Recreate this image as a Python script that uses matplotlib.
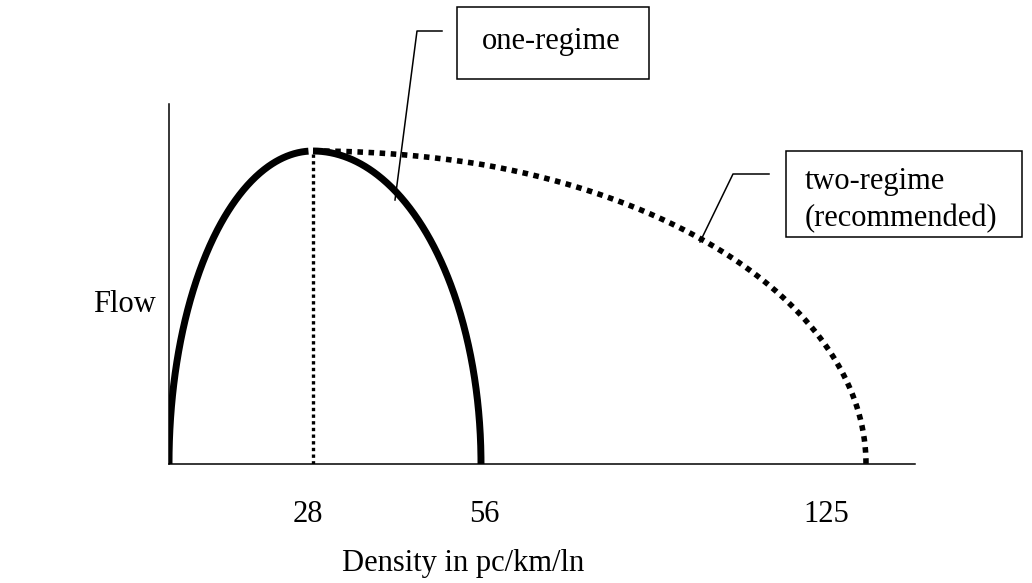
import numpy as np
import matplotlib
matplotlib.use("Agg")
import matplotlib.pyplot as plt
from matplotlib.patches import Rectangle
from matplotlib.transforms import ScaledTranslation

# ---------------- data ----------------
density_ticks = [28, 56, 125]
tick_labels = ["28", "56", "125"]
k_critical = 28        # density at capacity (pc/km/ln)
k_jam_one = 56         # jam density, one-regime model
k_jam_two = 125        # jam density, two-regime model
capacity = 1.0         # relative flow at capacity (schematic)
series_names = ["one-regime", ["two-regime", "(recommended)"]]
x_label = "Density in pc/km/ln"
y_label = "Flow"

# ---------------- layout ----------------
W, H = 1032, 583
plt.rcParams['font.family'] = ['Liberation Serif', 'DejaVu Serif']
FS = 22
fig = plt.figure(figsize=(W / 100, H / 100), dpi=100)

ax_left, ax_right, ax_top, ax_bottom = 169, 915, 104, 464
ax = fig.add_axes([ax_left / W, (H - ax_bottom) / H,
                   (ax_right - ax_left) / W, (ax_bottom - ax_top) / H])

# schematic (not-to-scale) density axis: piecewise-linear mapping
knots_d = [0, 28, 56, 125, 140]
knots_p = [0, 144, 312, 697, 746]
fwd = lambda x: np.interp(x, knots_d, knots_p)
inv = lambda p: np.interp(p, knots_p, knots_d)
ax.set_xscale('function', functions=(fwd, inv))
ax.set_xlim(0, 140)
ax.set_ylim(0, capacity * 360 / 313)

t = np.linspace(0, np.pi / 2, 300)
# one-regime: two quarter ellipses joined at capacity
k_left = k_critical - k_critical * np.cos(t)
q_left = capacity * np.sin(t)
k_right = k_critical + (k_jam_one - k_critical) * np.sin(t)
q_right = capacity * np.cos(t)
ax.plot(k_left[:-6], q_left[:-6], color='black', lw=5.0, solid_capstyle='butt', zorder=3)
ax.plot(k_right, q_right, color='black', lw=5.0, solid_capstyle='butt', zorder=3)
# two-regime congested branch
k_two = k_critical + (k_jam_two - k_critical) * np.sin(t)
q_two = capacity * np.cos(t)
ax.plot(k_two, q_two, color='black', lw=4.0, linestyle=(0, (1, 1)),
        dash_capstyle='butt', zorder=2)
# vertical dotted line at critical density
ax.plot([k_critical, k_critical], [0, capacity], color='black', lw=2.4,
        linestyle=(0, (1, 1)), dash_capstyle='butt', zorder=2)

for s in ['top', 'right']:
    ax.spines[s].set_visible(False)
for s in ['left', 'bottom']:
    ax.spines[s].set_linewidth(1.1)
ax.set_yticks([])
ax.set_xticks(density_ticks)
ax.set_xticklabels(tick_labels, fontsize=FS)
ax.tick_params(axis='x', length=0, pad=26)
label_dx = [-5, 3, -40]
for lab, dx in zip(ax.get_xticklabels(), label_dx):
    lab.set_transform(lab.get_transform() + ScaledTranslation(dx / 100, 0, fig.dpi_scale_trans))

# ---------------- overlay (annotations) ----------------
ov = fig.add_axes([0, 0, 1, 1], facecolor='none')
ov.set_xlim(0, W)
ov.set_ylim(H, 0)
ov.axis('off')

ov.text(93, 305, y_label, fontsize=FS, ha='left', va='center')
ov.text(463, 564, x_label, fontsize=FS, ha='center', va='center')

ov.add_patch(Rectangle((457, 7), 192, 72, fill=False, lw=1.1, ec='black'))
ov.text(551, 41, series_names[0], fontsize=FS, ha='center', va='center')
ov.plot([395, 417, 442], [200, 31, 31], color='black', lw=1.1)

ov.add_patch(Rectangle((786, 151), 236, 86, fill=False, lw=1.1, ec='black'))
ov.text(805, 182, series_names[1][0], fontsize=FS, ha='left', va='center')
ov.text(805, 219, series_names[1][1], fontsize=FS, ha='left', va='center')
ov.plot([700, 733, 769], [242, 174, 174], color='black', lw=1.1)

fig.savefig('out.png', dpi=100)
